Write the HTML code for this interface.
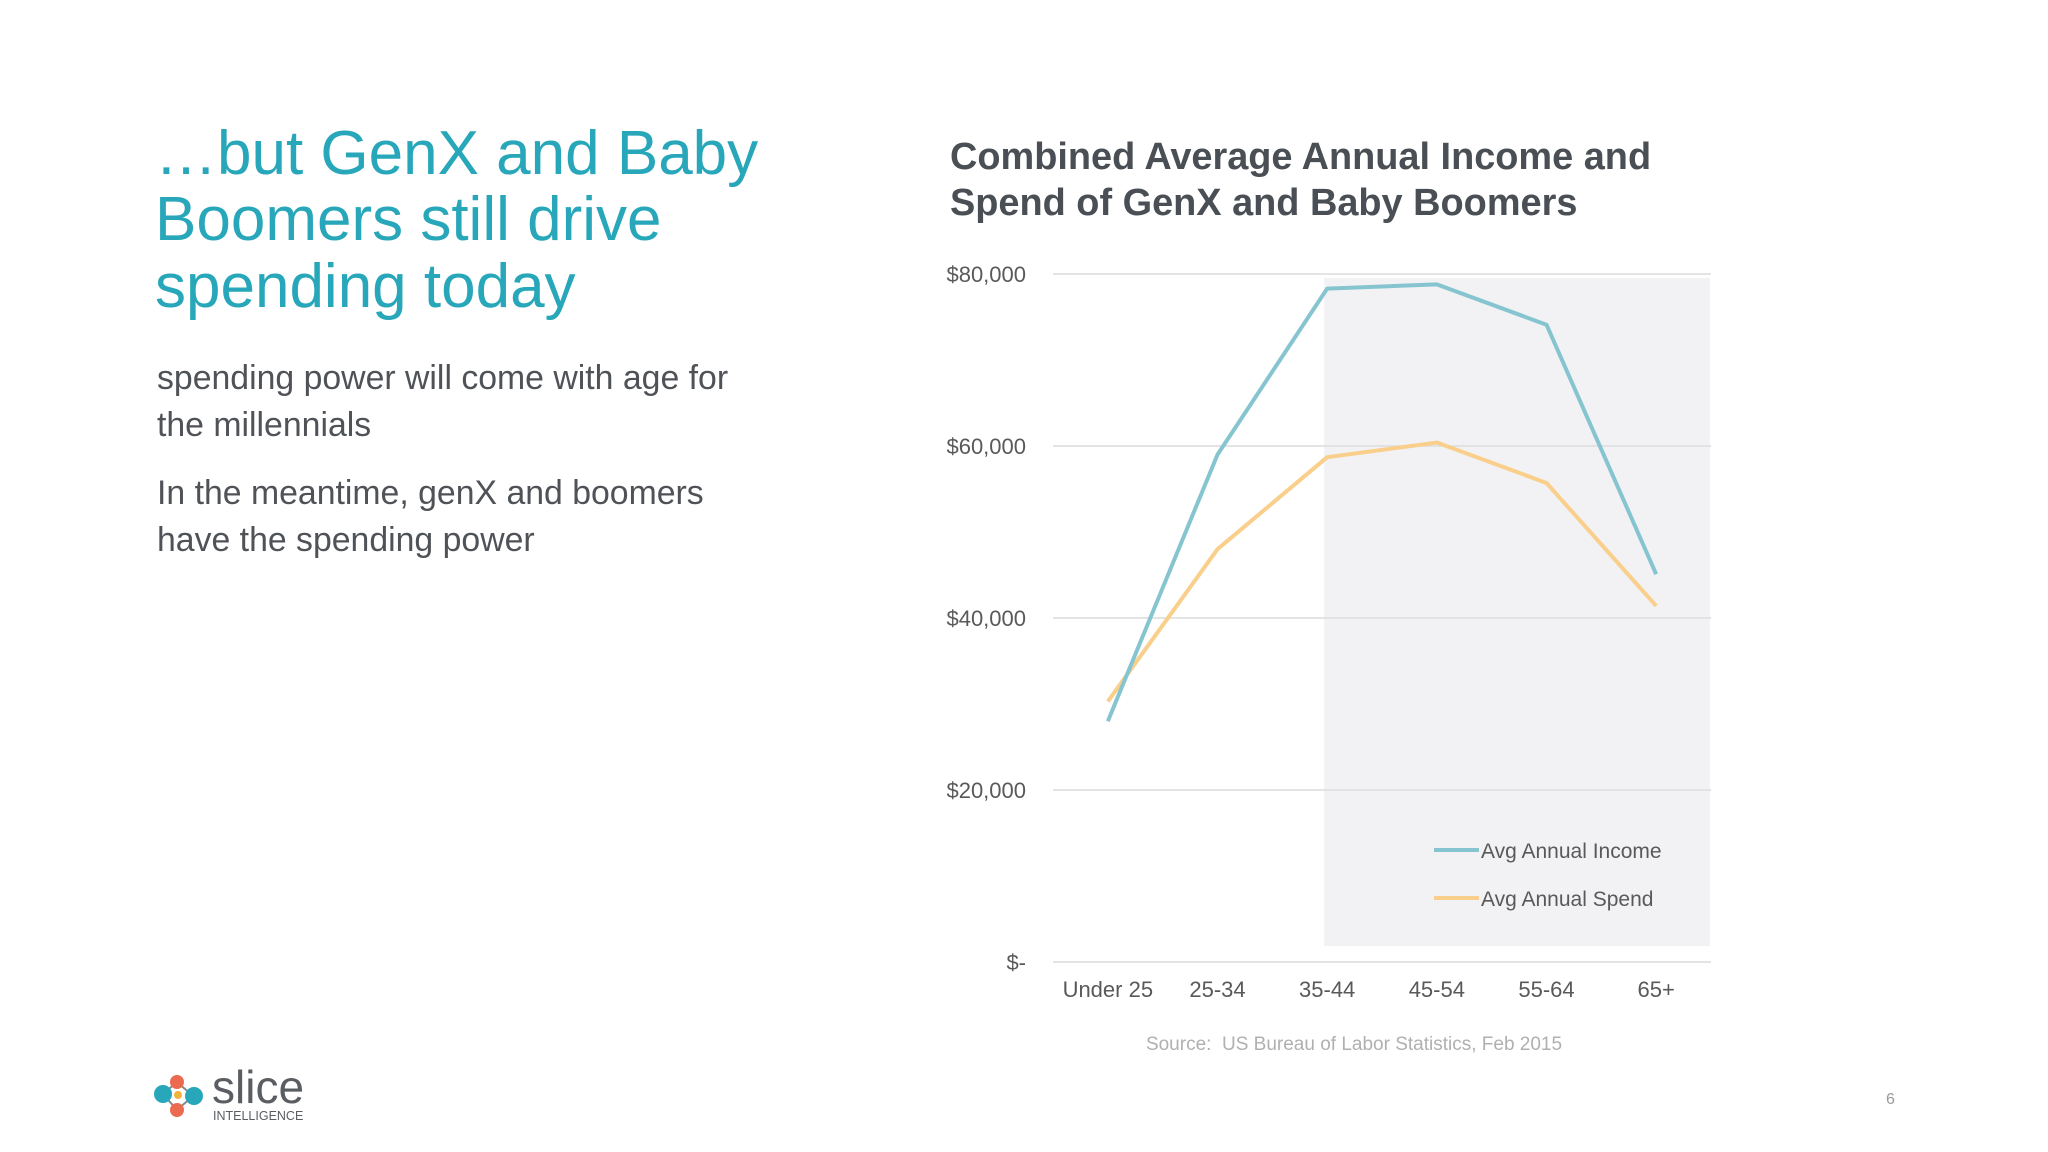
<!DOCTYPE html>
<html><head><meta charset="utf-8"><style>
html,body{margin:0;padding:0;background:#fff;}
svg{display:block;font-family:"Liberation Sans",Arial,sans-serif;}
</style></head><body>
<svg id="slide" width="2048" height="1152" viewBox="0 0 2048 1152">
<rect width="2048" height="1152" fill="#ffffff"/>
<g fill="#27a7b9" font-size="62">
<text x="155" y="174">…but GenX and Baby</text>
<text x="155" y="240">Boomers still drive</text>
<text x="155" y="307">spending today</text>
</g>
<g fill="#4f5358" font-size="33.8">
<text x="157" y="389">spending power will come with age for</text>
<text x="157" y="436">the millennials</text>
<text x="157" y="504">In the meantime, genX and boomers</text>
<text x="157" y="551">have the spending power</text>
</g>
<g fill="#4a4f55" font-size="37.9" font-weight="bold">
<text x="950" y="169">Combined Average Annual Income and</text>
<text x="950" y="215">Spend of GenX and Baby Boomers</text>
</g>
<g id="chart"></g>
<text x="1354" y="1050" text-anchor="middle" font-size="19" fill="#b0b0b0">Source:&#160; US Bureau of Labor Statistics, Feb 2015</text>
<text x="1886" y="1104" font-size="16" fill="#999">6</text>
<g>
<line x1="163" y1="1094" x2="177" y2="1082" stroke="#888" stroke-width="2"/>
<line x1="163" y1="1094" x2="177" y2="1110" stroke="#888" stroke-width="2"/>
<line x1="193" y1="1096" x2="177" y2="1082" stroke="#888" stroke-width="2"/>
<line x1="193" y1="1096" x2="177" y2="1110" stroke="#888" stroke-width="2"/>
<circle cx="177" cy="1082" r="7" fill="#ec6a50"/>
<circle cx="177" cy="1110" r="7" fill="#ec6a50"/>
<circle cx="163" cy="1094" r="9" fill="#27a7b9"/>
<circle cx="194" cy="1096" r="9" fill="#27a7b9"/>
<circle cx="178" cy="1095" r="4" fill="#f2b33d"/>
<text x="212" y="1103" font-size="46" fill="#5a5e63">slice</text>
<text x="213" y="1120" font-size="12.5" fill="#5a5e63">INTELLIGENCE</text>
</g>
</svg>
<script>
const categories = ["Under 25","25-34","35-44","45-54","55-64","65+"];
const incomeValues = [28000,59000,78300,78800,74100,45100];
const spendValues = [30300,48000,58700,60400,55700,41400];
const yTicks = [0,20000,40000,60000,80000];
const yTickLabels = ["$-","$20,000","$40,000","$60,000","$80,000"];
const seriesNames = ["Avg Annual Income","Avg Annual Spend"];

const NS = "http://www.w3.org/2000/svg";
const g = document.getElementById('chart');
const plotL = 1053, plotR = 1711, y0 = 962, y80 = 274;
const yScale = v => y0 - (v / 80000) * (y0 - y80);
const xStep = (plotR - plotL) / categories.length;
const xScale = i => plotL + xStep * (i + 0.5);
function mk(tag, attrs){ const e = document.createElementNS(NS, tag); for (const k in attrs) e.setAttribute(k, attrs[k]); g.appendChild(e); return e; }

const shadeX = xScale(2) - 3;
const shade = mk('rect', {x: shadeX, y: 278, width: plotR - 1 - shadeX, height: 946-278, fill: '#f2f2f4'});



yTicks.forEach((t, i) => {
  const y = yScale(t);
  const ln = mk('line', {x1: plotL, x2: plotR, y1: y, y2: y, stroke: '#dcdcdc', 'stroke-width': 1.5});
  
  
  const tx = mk('text', {x: 1026, y: y + 8, 'text-anchor': 'end', 'font-size': 22, fill: '#595959'});
  tx.textContent = yTickLabels[i];
  
  
});
categories.forEach((c, i) => {
  const tx = mk('text', {x: xScale(i), y: 997, 'text-anchor': 'middle', 'font-size': 22, fill: '#595959'});
  tx.textContent = c;
  
  
});
function line(vals, color, name){
  const pts = vals.map((v, i) => xScale(i) + ',' + yScale(v)).join(' ');
  const p = mk('polyline', {points: pts, fill: 'none', stroke: color, 'stroke-width': 4, 'stroke-linejoin': 'round'});
  
  
}
line(spendValues, '#f9cf8b', 'spend-line');
line(incomeValues, '#86c5d0', 'income-line');

const legColors = ['#86c5d0', '#f9cf8b'];
seriesNames.forEach((n, i) => {
  const y = 850 + i * 48;
  const l = mk('line', {x1: 1434, x2: 1479, y1: y, y2: y, stroke: legColors[i], 'stroke-width': 4});
  
  
  const t = mk('text', {x: 1481, y: y + 8, 'font-size': 21, fill: '#595959'});
  t.textContent = n;
  
  
});
</script>
</body></html>
